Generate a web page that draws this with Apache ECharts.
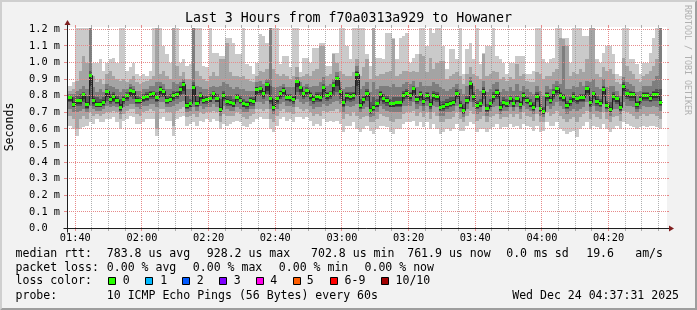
<!DOCTYPE html>
<html><head><meta charset="utf-8">
<script src="https://cdn.jsdelivr.net/npm/echarts@6/dist/echarts.min.js"></script>
<style>html,body{margin:0;padding:0;background:#F2F2F2}#c{width:697px;height:310px}</style>
</head><body><div id="c"></div>
<script>
// ---------------- data ----------------
const titleText = 'Last 3 Hours from f70a0313a929 to Howaner';
const viewStartLabel = '01:37:31';
const viewEndLabel = '04:37:31';
const firstStep = '01:37';          // first (partial) one-minute step
const xTickLabels = ['01:40','02:00','02:20','02:40','03:00','03:20','03:40','04:00','04:20'];
const yTickValues = [0,0.1,0.2,0.3,0.4,0.5,0.6,0.7,0.8,0.9,1.0,1.1,1.2];
const yMax = 1.214;

// median rtt per minute (ms)
const median = [0.79,0.79,0.75,0.77,0.77,0.81,0.745,0.92,0.77,0.75,0.75,0.76,0.826,0.776,0.796,0.77,0.73,0.78,0.80,0.83,0.826,0.77,0.77,0.79,0.796,0.81,0.816,0.79,0.84,0.826,0.77,0.78,0.80,0.81,0.84,0.87,0.74,
0.752,0.85,0.756,0.80,0.77,0.776,0.782,0.812,0.782,0.715,0.80,0.766,0.762,0.752,0.792,0.77,0.752,0.745,0.77,0.766,0.836,0.842,0.816,0.867,0.782,0.73,0.782,0.816,0.832,0.792,0.788,0.776,0.883,0.85,0.812,0.83,
0.80,0.776,0.796,0.79,0.85,0.80,0.812,0.86,0.903,0.826,0.758,0.80,0.796,0.80,0.928,0.74,0.776,0.816,0.71,0.73,0.752,0.806,0.782,0.77,0.752,0.752,0.758,0.758,0.80,0.816,0.80,0.842,0.776,0.806,0.766,0.80,
0.745,0.80,0.796,0.73,0.735,0.745,0.756,0.762,0.816,0.74,0.71,0.77,0.873,0.796,0.74,0.752,0.826,0.72,0.752,0.796,0.82,0.73,0.76,0.752,0.782,0.752,0.782,0.745,0.80,0.77,0.752,0.73,0.796,0.72,0.703,0.80,
0.77,0.818,0.842,0.80,0.79,0.741,0.766,0.796,0.782,0.79,0.79,0.842,0.76,0.812,0.766,0.756,0.836,0.741,0.715,0.796,0.782,0.73,0.857,0.812,0.806,0.806,0.745,0.776,0.80,0.80,0.786,0.806,0.806,0.762];

// sorted pings per minute (ms): p1 = fastest ... p10 = slowest
const p10 = [0.86,0.86,0.88,1.21,1.21,1.21,1.21,1.21,1.0,1.0,1.02,0.95,1.0,1.02,1.03,1.0,1.21,1.21,0.95,0.97,1.0,0.93,0.92,0.93,0.92,0.95,1.21,1.21,1.21,1.1,1.05,1.0,1.21,1.21,1.0,1.02,0.98,
0.99,1.21,1.21,1.21,0.98,0.97,1.21,1.06,1.06,1.04,1.04,1.15,1.15,1.12,1.05,1.05,1.21,0.99,0.98,0.93,1.0,1.17,1.16,1.12,1.21,1.21,1.21,0.99,1.04,1.04,0.97,1.21,1.21,0.94,1.03,1.03,
1.0,1.09,1.09,1.12,1.12,0.98,0.98,1.06,1.06,1.21,1.21,1.1,1.02,1.21,1.21,1.21,1.21,1.05,0.98,1.21,1.03,1.03,1.02,1.18,1.18,1.15,1.02,1.15,1.16,1.18,1.0,1.03,1.05,1.21,1.21,1.1,
1.21,1.18,1.21,1.21,1.1,0.96,1.08,1.08,1.02,1.21,0.93,1.08,1.12,1.02,1.21,0.99,1.06,1.1,1.1,1.21,1.04,1.02,1.0,0.93,1.0,1.0,1.04,1.04,1.04,0.93,0.93,0.95,1.21,1.21,1.02,1.0,
1.02,1.03,1.21,1.21,1.15,1.15,1.0,1.21,1.21,1.21,1.16,1.16,1.21,1.21,1.02,1.0,1.06,1.1,1.1,1.05,0.93,0.92,1.21,1.21,1.02,1.02,0.99,0.93,1.0,1.0,1.06,1.15,1.21,1.21];
const p9 = [0.83,0.83,0.84,0.89,0.95,1.04,1.0,1.21,0.92,0.88,0.90,0.87,0.93,0.95,0.92,0.90,0.89,0.90,0.88,0.90,0.92,0.88,0.87,0.88,0.89,0.90,0.92,1.21,0.93,0.95,0.92,0.90,1.21,0.98,0.92,0.94,0.90,
0.90,1.21,0.95,0.92,0.90,0.89,0.92,0.94,0.92,1.02,1.02,1.12,0.94,0.92,0.92,0.91,0.92,0.90,0.89,0.88,0.92,0.95,0.94,0.96,1.21,0.96,0.93,0.92,0.93,0.92,0.90,0.92,0.97,0.91,0.92,0.93,
0.92,0.95,0.96,1.1,1.1,0.92,0.93,1.05,1.0,0.95,0.93,0.92,0.92,0.94,1.02,0.92,0.97,1.02,0.90,1.21,0.92,0.93,0.93,0.94,0.95,1.14,0.92,0.93,0.95,0.95,0.94,0.95,0.94,1.05,1.04,0.94,
1.03,0.96,1.0,1.01,1.01,0.90,0.92,0.93,0.94,0.92,0.87,0.93,0.97,0.93,0.92,0.90,1.05,0.92,0.93,0.95,0.94,0.90,0.91,0.89,0.91,0.90,0.99,0.92,0.93,0.89,0.88,0.88,0.94,0.93,0.90,0.92,
0.92,0.94,0.96,1.15,1.14,1.1,0.92,0.94,0.93,0.96,0.94,1.02,1.21,1.21,0.93,0.91,0.97,0.95,0.96,0.93,0.88,0.87,1.03,0.98,0.95,0.93,0.90,0.88,0.92,0.93,0.95,0.98,1.02,1.21];
const p8 = [0.81,0.81,0.81,0.83,0.84,0.86,0.84,1.21,0.85,0.82,0.84,0.82,0.87,0.86,0.85,0.84,0.82,0.84,0.84,0.87,0.86,0.83,0.83,0.84,0.84,0.86,0.86,0.88,0.88,0.87,0.84,0.84,0.88,0.87,0.88,0.90,0.84,
0.84,1.21,0.86,0.85,0.84,0.84,0.85,0.86,0.85,0.86,0.88,0.87,0.85,0.84,0.85,0.84,0.84,0.83,0.83,0.83,0.88,0.89,0.87,0.90,1.21,0.85,0.85,0.86,0.87,0.85,0.85,0.85,0.91,0.88,0.86,0.87,
0.85,0.86,0.86,0.88,0.91,0.86,0.87,0.90,0.94,0.88,0.84,0.85,0.85,0.86,0.98,0.84,0.86,0.88,0.82,0.88,0.84,0.86,0.86,0.86,0.85,0.87,0.85,0.85,0.87,0.88,0.87,0.89,0.85,0.88,0.86,0.86,
0.86,0.88,0.87,0.85,0.84,0.83,0.84,0.85,0.87,0.84,0.81,0.86,0.91,0.86,0.84,0.83,0.89,0.82,0.84,0.87,0.88,0.82,0.84,0.83,0.85,0.83,0.87,0.83,0.86,0.84,0.82,0.81,0.86,0.83,0.80,0.86,
0.84,0.87,0.89,0.87,1.1,0.84,0.84,0.86,0.85,0.88,0.86,0.89,0.88,0.90,0.85,0.84,0.90,0.85,0.86,0.86,0.83,0.80,0.91,0.88,0.87,0.86,0.82,0.83,0.86,0.86,0.86,0.89,0.92,1.21];
const p7 = [0.80,0.80,0.79,0.80,0.81,0.82,0.80,0.95,0.80,0.79,0.78,0.79,0.84,0.81,0.82,0.80,0.78,0.80,0.82,0.85,0.84,0.80,0.79,0.81,0.82,0.83,0.83,0.82,0.86,0.84,0.80,0.81,0.83,0.83,0.86,0.88,0.80,
0.78,0.88,0.80,0.82,0.80,0.80,0.81,0.83,0.81,0.78,0.83,0.80,0.80,0.78,0.81,0.80,0.78,0.77,0.79,0.79,0.85,0.86,0.83,0.88,0.86,0.78,0.80,0.83,0.85,0.81,0.81,0.80,0.89,0.86,0.83,0.85,
0.82,0.80,0.82,0.82,0.87,0.82,0.83,0.88,0.92,0.85,0.78,0.82,0.82,0.82,0.95,0.78,0.80,0.84,0.76,0.79,0.78,0.83,0.81,0.80,0.78,0.79,0.79,0.79,0.83,0.84,0.82,0.86,0.80,0.83,0.79,0.82,
0.78,0.83,0.82,0.77,0.77,0.78,0.79,0.79,0.84,0.77,0.75,0.80,0.89,0.82,0.77,0.78,0.85,0.75,0.78,0.82,0.84,0.76,0.79,0.78,0.80,0.78,0.80,0.77,0.82,0.79,0.78,0.76,0.82,0.75,0.73,0.82,
0.80,0.84,0.86,0.82,0.81,0.77,0.79,0.82,0.80,0.81,0.81,0.86,0.79,0.83,0.80,0.78,0.86,0.77,0.76,0.82,0.80,0.76,0.88,0.84,0.83,0.82,0.77,0.80,0.82,0.82,0.81,0.83,0.84,0.84];
const p6 = [0.80,0.80,0.765,0.78,0.785,0.815,0.76,0.93,0.785,0.76,0.765,0.775,0.835,0.79,0.81,0.785,0.75,0.79,0.81,0.84,0.835,0.785,0.78,0.80,0.81,0.82,0.825,0.80,0.85,0.835,0.785,0.795,0.815,0.82,0.85,0.88,0.755,
0.765,0.865,0.77,0.81,0.785,0.79,0.795,0.825,0.795,0.73,0.815,0.78,0.775,0.765,0.805,0.785,0.765,0.76,0.785,0.78,0.85,0.855,0.83,0.875,0.795,0.745,0.795,0.83,0.845,0.805,0.80,0.79,0.895,0.86,0.825,0.84,
0.815,0.79,0.81,0.805,0.86,0.815,0.825,0.87,0.915,0.84,0.77,0.815,0.81,0.815,0.94,0.755,0.79,0.83,0.725,0.745,0.765,0.82,0.795,0.785,0.765,0.765,0.77,0.77,0.815,0.83,0.815,0.855,0.79,0.82,0.78,0.815,
0.76,0.815,0.81,0.745,0.75,0.76,0.77,0.775,0.83,0.755,0.725,0.785,0.885,0.81,0.755,0.765,0.84,0.735,0.765,0.81,0.835,0.745,0.775,0.765,0.795,0.765,0.795,0.76,0.815,0.785,0.765,0.745,0.81,0.735,0.715,0.815,
0.785,0.83,0.855,0.815,0.805,0.755,0.78,0.81,0.795,0.805,0.805,0.855,0.775,0.825,0.78,0.77,0.85,0.755,0.73,0.81,0.795,0.745,0.87,0.825,0.82,0.82,0.76,0.79,0.815,0.815,0.80,0.82,0.82,0.775];
const p5 = [0.77,0.77,0.735,0.75,0.75,0.78,0.725,0.86,0.75,0.735,0.735,0.745,0.79,0.76,0.77,0.755,0.715,0.76,0.78,0.80,0.80,0.755,0.755,0.77,0.775,0.79,0.79,0.77,0.81,0.80,0.755,0.765,0.78,0.79,0.81,0.83,0.725,
0.735,0.80,0.74,0.78,0.755,0.76,0.765,0.79,0.765,0.70,0.78,0.75,0.745,0.735,0.775,0.755,0.735,0.73,0.755,0.75,0.81,0.815,0.795,0.83,0.765,0.715,0.765,0.79,0.81,0.775,0.77,0.76,0.85,0.82,0.79,0.81,
0.78,0.76,0.775,0.77,0.82,0.78,0.79,0.83,0.86,0.80,0.74,0.78,0.775,0.78,0.86,0.725,0.755,0.79,0.695,0.715,0.735,0.785,0.765,0.755,0.735,0.735,0.74,0.74,0.78,0.79,0.78,0.815,0.76,0.785,0.75,0.78,
0.73,0.78,0.775,0.715,0.72,0.73,0.74,0.745,0.79,0.725,0.695,0.755,0.84,0.775,0.725,0.735,0.80,0.705,0.735,0.775,0.795,0.715,0.745,0.735,0.765,0.735,0.765,0.73,0.78,0.755,0.735,0.715,0.775,0.705,0.69,0.78,
0.755,0.795,0.815,0.78,0.77,0.725,0.75,0.775,0.765,0.77,0.77,0.815,0.74,0.79,0.75,0.74,0.81,0.725,0.70,0.775,0.765,0.715,0.83,0.79,0.785,0.785,0.73,0.76,0.78,0.78,0.77,0.785,0.785,0.745];
const p4 = [0.76,0.76,0.73,0.74,0.74,0.76,0.72,0.78,0.74,0.73,0.73,0.74,0.77,0.75,0.76,0.75,0.71,0.75,0.77,0.79,0.78,0.75,0.75,0.76,0.77,0.78,0.78,0.76,0.79,0.79,0.75,0.76,0.77,0.78,0.80,0.81,0.72,
0.73,0.76,0.73,0.77,0.75,0.75,0.76,0.78,0.76,0.70,0.77,0.74,0.74,0.73,0.76,0.75,0.73,0.72,0.74,0.74,0.80,0.80,0.78,0.81,0.75,0.71,0.75,0.78,0.79,0.77,0.76,0.75,0.82,0.80,0.78,0.79,
0.77,0.75,0.76,0.76,0.79,0.77,0.78,0.80,0.82,0.78,0.73,0.77,0.76,0.77,0.80,0.72,0.75,0.77,0.69,0.71,0.73,0.77,0.75,0.74,0.73,0.73,0.73,0.73,0.77,0.78,0.77,0.80,0.75,0.77,0.74,0.77,
0.72,0.77,0.76,0.71,0.71,0.72,0.73,0.74,0.78,0.72,0.69,0.75,0.80,0.76,0.72,0.73,0.78,0.70,0.73,0.76,0.78,0.71,0.74,0.73,0.76,0.73,0.76,0.72,0.77,0.75,0.73,0.71,0.76,0.70,0.69,0.77,
0.75,0.78,0.80,0.77,0.76,0.72,0.74,0.76,0.75,0.76,0.76,0.80,0.73,0.78,0.74,0.73,0.79,0.72,0.70,0.76,0.75,0.71,0.80,0.78,0.77,0.77,0.72,0.75,0.77,0.77,0.76,0.77,0.77,0.74];
const p3 = [0.72,0.72,0.70,0.70,0.71,0.72,0.70,0.74,0.72,0.71,0.71,0.72,0.74,0.73,0.74,0.73,0.69,0.73,0.74,0.75,0.75,0.73,0.72,0.74,0.74,0.75,0.75,0.73,0.76,0.76,0.73,0.73,0.74,0.75,0.76,0.77,0.70,
0.71,0.73,0.71,0.74,0.72,0.73,0.73,0.75,0.73,0.68,0.74,0.72,0.71,0.71,0.73,0.72,0.70,0.70,0.72,0.72,0.76,0.76,0.75,0.77,0.72,0.69,0.72,0.75,0.76,0.74,0.74,0.73,0.78,0.76,0.75,0.76,
0.74,0.72,0.73,0.73,0.75,0.74,0.75,0.76,0.77,0.75,0.70,0.74,0.73,0.74,0.75,0.70,0.72,0.73,0.67,0.68,0.70,0.74,0.72,0.71,0.70,0.70,0.70,0.70,0.74,0.74,0.74,0.76,0.72,0.74,0.71,0.74,
0.70,0.74,0.73,0.68,0.68,0.70,0.70,0.71,0.74,0.70,0.67,0.72,0.76,0.73,0.69,0.70,0.74,0.68,0.71,0.73,0.74,0.69,0.71,0.71,0.73,0.71,0.73,0.70,0.74,0.72,0.71,0.69,0.73,0.68,0.67,0.74,
0.72,0.74,0.76,0.74,0.72,0.69,0.71,0.72,0.71,0.72,0.73,0.76,0.70,0.74,0.71,0.70,0.75,0.70,0.68,0.72,0.72,0.69,0.76,0.74,0.74,0.73,0.70,0.72,0.74,0.73,0.73,0.74,0.73,0.71];
const p2 = [0.68,0.68,0.66,0.60,0.66,0.68,0.66,0.70,0.68,0.69,0.68,0.69,0.70,0.70,0.71,0.70,0.66,0.69,0.71,0.72,0.72,0.69,0.68,0.70,0.71,0.72,0.71,0.60,0.72,0.72,0.70,0.70,0.62,0.71,0.72,0.73,0.67,
0.68,0.69,0.67,0.70,0.69,0.70,0.70,0.71,0.70,0.64,0.69,0.68,0.68,0.68,0.70,0.69,0.67,0.66,0.68,0.69,0.72,0.72,0.71,0.72,0.66,0.64,0.68,0.71,0.72,0.70,0.70,0.69,0.73,0.72,0.71,0.72,
0.70,0.68,0.69,0.68,0.71,0.70,0.71,0.71,0.72,0.70,0.66,0.69,0.68,0.70,0.68,0.66,0.67,0.68,0.64,0.64,0.66,0.69,0.68,0.67,0.65,0.64,0.66,0.66,0.69,0.70,0.70,0.71,0.68,0.70,0.67,0.70,
0.66,0.70,0.68,0.64,0.64,0.66,0.66,0.67,0.70,0.66,0.64,0.68,0.71,0.69,0.65,0.66,0.68,0.64,0.67,0.68,0.69,0.66,0.67,0.67,0.69,0.67,0.69,0.66,0.70,0.68,0.67,0.65,0.69,0.64,0.64,0.70,
0.68,0.69,0.71,0.68,0.66,0.64,0.66,0.67,0.64,0.67,0.69,0.71,0.66,0.69,0.67,0.66,0.70,0.66,0.64,0.67,0.68,0.65,0.71,0.70,0.69,0.68,0.66,0.68,0.69,0.68,0.69,0.69,0.68,0.66];
const p1 = [0.62,0.62,0.60,0.56,0.60,0.61,0.62,0.64,0.63,0.66,0.64,0.64,0.66,0.66,0.67,0.64,0.60,0.65,0.66,0.68,0.67,0.63,0.63,0.64,0.66,0.66,0.66,0.56,0.66,0.67,0.65,0.65,0.56,0.66,0.67,0.68,0.62,
0.63,0.64,0.62,0.65,0.64,0.66,0.64,0.66,0.65,0.60,0.63,0.62,0.63,0.64,0.65,0.64,0.62,0.61,0.63,0.64,0.66,0.67,0.66,0.66,0.60,0.58,0.62,0.66,0.67,0.65,0.66,0.64,0.67,0.67,0.66,0.67,
0.65,0.62,0.63,0.62,0.66,0.64,0.65,0.64,0.65,0.63,0.58,0.62,0.62,0.64,0.60,0.58,0.60,0.62,0.59,0.57,0.60,0.62,0.62,0.61,0.58,0.57,0.60,0.60,0.63,0.64,0.64,0.65,0.62,0.64,0.61,0.64,
0.60,0.63,0.60,0.57,0.58,0.60,0.59,0.60,0.63,0.59,0.59,0.62,0.64,0.63,0.58,0.60,0.60,0.58,0.60,0.61,0.63,0.60,0.61,0.61,0.63,0.61,0.62,0.60,0.63,0.62,0.61,0.59,0.62,0.58,0.59,0.64,
0.62,0.62,0.64,0.60,0.59,0.57,0.58,0.59,0.55,0.60,0.62,0.64,0.60,0.62,0.61,0.60,0.63,0.60,0.58,0.60,0.62,0.60,0.64,0.63,0.62,0.61,0.60,0.61,0.62,0.61,0.62,0.62,0.61,0.60];

const lossLegend = [['0','#26ff00'],['1','#00b8ff'],['2','#0059ff'],['3','#7e00ff'],['4','#ff00ea'],['5','#ff5e00'],['6-9','#ff0000'],['10/10','#a10000']];

// ---------------- helpers ----------------
const toMin = s => { const a = s.split(':').map(Number); return a[0]*60 + a[1] + (a[2]||0)/60; };
const fmtHM = v => { const h = Math.floor(v/60 + 1e-9), m = Math.round(v - h*60); return String(h).padStart(2,'0')+':'+String(m).padStart(2,'0'); };
const viewStart = toMin(viewStartLabel), viewEnd = toMin(viewEndLabel), step0 = toMin(firstStep);
const FONT = '"DejaVu Sans Mono", monospace';
const shades = ['#cacaca','#a4a4a4','#7e7e7e','#585858','#323232'];
const pings = [p1,p2,p3,p4,p5,p6,p7,p8,p9,p10];

const smokeRows = median.map((m,k)=>[step0+k, step0+k+1].concat(pings.map(p=>p[k])));
const medRows = median.map((m,k)=>[step0+k, step0+k+1, m, k ? median[k-1] : m]);

const gridRows = [];
for (let v = Math.ceil(viewStart/5)*5; v <= viewEnd; v += 5) gridRows.push([v % 20 === 0 ? 1 : 0, v]);
yTickValues.forEach(v => { if (v > 0) gridRows.push([2, v]); });

const MINOR = 'rgba(143,143,143,0.7)', MAJOR = '#e68a8a';

function smokeItem(params, api) {
  const t0 = Math.max(api.value(0), viewStart), t1 = Math.min(api.value(1), viewEnd);
  const children = [];
  for (let b = 0; b < 5; b++) {
    const lo = api.value(2+b), hi = api.value(11-b);
    if (lo == null || hi == null || isNaN(lo) || isNaN(hi)) continue;
    const a = api.coord([t0, Math.max(lo,hi)]), c = api.coord([t1, Math.min(lo,hi)]);
    const xL = Math.round(a[0]), xR = Math.round(c[0]), yT = Math.round(a[1]), yB = Math.round(c[1]);
    children.push({type:'rect', shape:{x:xL, y:yT, width:xR-xL, height:Math.max(1,yB-yT)}, style:{fill:shades[b]}});
  }
  return {type:'group', children};
}
function lineItem(params, api) {
  const t0 = Math.max(api.value(0), viewStart), t1 = api.value(1);
  const a = api.coord([t0, api.value(2)]), b = api.coord([t1, api.value(2)]), p = api.coord([t0, api.value(3)]);
  const xL = Math.round(a[0]) + 0.5, xR = Math.round(b[0]) + 0.5;
  const y = Math.floor(a[1]) + 0.5, yp = Math.floor(p[1]) + 0.5;
  return {type:'polyline', shape:{points:[[xL,yp],[xL,y],[xR,y]]}, style:{stroke:'#202020', lineWidth:1, fill:null}};
}
function greenItem(params, api) {
  const t0 = Math.max(api.value(0), viewStart), t1 = api.value(1);
  const a = api.coord([t0, api.value(2)]), c = api.coord([t1, api.value(2)]);
  const xL = Math.round(a[0]), xR = Math.round(c[0]), yT = Math.round(a[1] - 1.5);
  return {type:'rect', shape:{x:xL, y:yT, width:xR-xL, height:3}, style:{fill:'#26ff00'}};
}
function gridItem(params, api) {
  const kind = api.value(0), v = api.value(1);
  const col = kind === 0 ? MINOR : MAJOR;
  const o = api.coord([viewStart, 0]), e = api.coord([viewEnd, yMax]);
  const ch = [];
  if (kind < 2) {
    const x = Math.floor(api.coord([v, 0])[0]) + 0.5;
    const yb = Math.floor(o[1]), yt = Math.round(e[1]);
    ch.push({type:'line', shape:{x1:x, y1:yb, x2:x, y2:yt}, style:{stroke:col, lineWidth:1, lineDash:[1,1]}});
    ch.push({type:'line', shape:{x1:x, y1:yb, x2:x, y2:yb+3}, style:{stroke:col, lineWidth:1}});
    ch.push({type:'line', shape:{x1:x, y1:yt-2, x2:x, y2:yt}, style:{stroke:col, lineWidth:1}});
  } else {
    const y = Math.floor(api.coord([viewStart, v])[1]) + 0.5;
    const xl = Math.round(o[0]), xr = Math.round(e[0]);
    ch.push({type:'line', shape:{x1:xl, y1:y, x2:xr+1, y2:y}, style:{stroke:col, lineWidth:1, lineDash:[1,1]}});
    ch.push({type:'line', shape:{x1:xl-3, y1:y, x2:xl, y2:y}, style:{stroke:col, lineWidth:1}});
    ch.push({type:'line', shape:{x1:xr, y1:y, x2:xr+2, y2:y}, style:{stroke:col, lineWidth:1}});
  }
  return {type:'group', children:ch};
}
function axesItem(params, api) {
  const o = api.coord([viewStart, 0]), r = api.coord([viewEnd, 0]), t = api.coord([viewStart, yMax]);
  const y = Math.floor(o[1]) + 0.5, x = Math.round(o[0]) + 0.5;
  const AX = '#1f1f1f', AR = '#801f1f';
  return {type:'group', children:[
    {type:'line', shape:{x1:x-4, y1:y, x2:r[0]+3, y2:y}, style:{stroke:AX, lineWidth:1}},
    {type:'line', shape:{x1:x, y1:y+4, x2:x, y2:t[1]-3}, style:{stroke:AX, lineWidth:1}},
    {type:'polygon', shape:{points:[[r[0]+2, y-3],[r[0]+2, y+3],[r[0]+7, y]]}, style:{fill:AR}},
    {type:'polygon', shape:{points:[[x-3, t[1]-2],[x+3, t[1]-2],[x, t[1]-7]]}, style:{fill:AR}}
  ]};
}

// ---------------- texts ----------------
const legendFont = '11.55px ' + FONT;
const T = (text, x, y, extra) => Object.assign({type:'text', x, y, z:100, silent:true,
  style:{text, font:legendFont, fill:'#000', align:'left', verticalAlign:'middle'}}, extra||{});
const L1 = 253.7, L2 = 267.7, L3 = 281.3, L4 = 295.7;
const graphics = [
  {type:'polygon', z:100, silent:true, shape:{points:[[0,310],[0,0],[697,0],[695,2],[2,2],[2,308]]}, style:{fill:'#cfcfcf'}},
  {type:'polygon', z:100, silent:true, shape:{points:[[0,310],[697,310],[697,0],[695,2],[695,308],[2,308]]}, style:{fill:'#9e9e9e'}},
  {type:'text', x:348.5, y:19, z:100, silent:true, style:{text:titleText, font:'13.25px '+FONT, fill:'#000', align:'center', verticalAlign:'middle'}},
  {type:'text', x:10.3, y:127, rotation:Math.PI/2, z:100, silent:true, style:{text:'Seconds', font:legendFont, fill:'#000', align:'center', verticalAlign:'middle'}},
  {type:'text', x:687.5, y:60, rotation:-Math.PI/2, z:100, silent:true, style:{text:'RRDTOOL / TOBI OETIKER', font:'8.3px '+FONT, fill:'#b0b0b0', align:'center', verticalAlign:'middle'}},
  T('median rtt:', 15.5, L1), T('783.8 us avg', 106.8, L1), T('928.2 us max', 206.8, L1), T('702.8 us min', 311, L1),
  T('761.9 us now', 407.2, L1), T('0.0 ms sd', 506.2, L1), T('19.6', 586.2, L1), T('am/s', 635.2, L1),
  T('packet loss:', 15.5, L2), T('0.00 % avg', 106.8, L2), T('0.00 % max', 192.8, L2), T('0.00 % min', 278.8, L2), T('0.00 % now', 364.5, L2),
  T('loss color:', 15.5, L3),
  T('probe:', 15.5, L4), T('10 ICMP Echo Pings (56 Bytes) every 60s', 106.8, L4), T('Wed Dec 24 04:37:31 2025', 512.2, L4)
];
const boxX = [108.5, 145.5, 182.5, 219.5, 256.5, 293.5, 330.5, 381.5];
const lblX = [122.8, 160.2, 196.8, 233.8, 270.2, 306.8, 344.5, 395.5];
lossLegend.forEach((it, i) => {
  graphics.push({type:'rect', z:100, silent:true, shape:{x:boxX[i], y:277.5, width:7, height:7}, style:{fill:it[1], stroke:'#000', lineWidth:1}});
  graphics.push(T(it[0], lblX[i], L3));
});

const chart = echarts.init(document.getElementById('c'), null, {renderer:'canvas', width:697, height:310});
chart.setOption({
  animation:false,
  backgroundColor:'#f2f2f2',
  grid:{left:67, right:30, top:27, bottom:81.5, show:true, backgroundColor:'#ffffff', borderWidth:0, containLabel:false},
  xAxis:{type:'value', min:viewStart, max:viewEnd,
    axisLine:{show:false}, axisTick:{show:false}, splitLine:{show:false},
    axisLabel:{customValues:xTickLabels.map(toMin), formatter:v=>fmtHM(v), color:'#000', fontFamily:'"DejaVu Sans Mono", monospace', fontSize:10.3, margin:5}},
  yAxis:{type:'value', min:0, max:yMax,
    axisLine:{show:false}, axisTick:{show:false}, splitLine:{show:false},
    axisLabel:{customValues:yTickValues, formatter:v=> v===0 ? '0.0  ' : v.toFixed(1)+' m', color:'#000', fontFamily:'"DejaVu Sans Mono", monospace', fontSize:10.3, margin:7}},
  series:[
    {type:'custom', name:'smoke', renderItem:smokeItem, data:smokeRows, clip:true, silent:true, z:2},
    {type:'custom', name:'median', renderItem:lineItem, data:medRows, clip:true, silent:true, z:3},
    {type:'custom', name:'loss 0', renderItem:greenItem, data:medRows, clip:true, silent:true, z:4},
    {type:'custom', name:'grid', renderItem:gridItem, data:gridRows, clip:false, silent:true, z:5},
    {type:'custom', name:'axes', renderItem:axesItem, data:[[viewStart,0]], clip:false, silent:true, z:6}
  ],
  graphic:graphics
});
</script></body></html>
